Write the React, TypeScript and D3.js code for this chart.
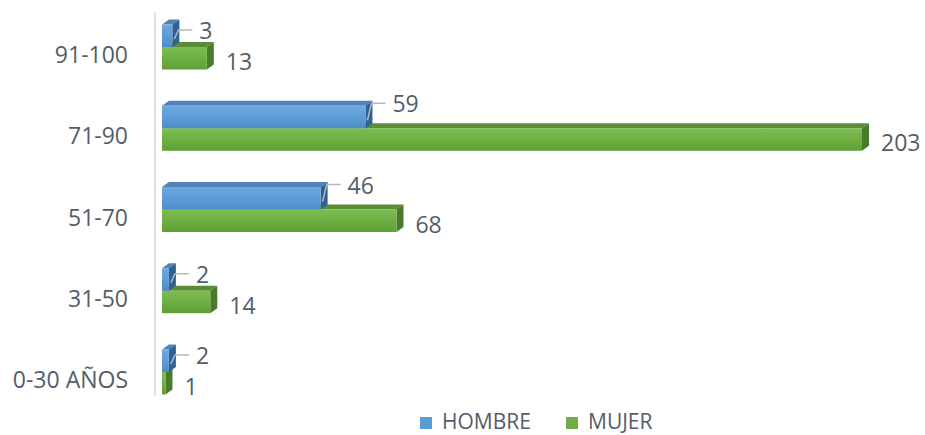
import React from "react";
import * as d3 from "d3";

const categories = ["91-100", "71-90", "51-70", "31-50", "0-30 AÑOS"];
const hombre = [3, 59, 46, 2, 2];
const mujer = [13, 203, 68, 14, 1];
const seriesNames = ["HOMBRE", "MUJER"];

const W = 925;
const H = 435;
const DX = 7;
const DY = -5;
const BAR_H = 22.5;
const FONT = "'Open Sans', 'DejaVu Sans', sans-serif";
const TEXT = "#545d68";

export default function App() {
  const x = d3.scaleLinear().domain([0, 203]).range([162, 862]);
  const y = d3
    .scaleBand<string>()
    .domain(categories)
    .range([6.4, 412.6])
    .padding(0);
  const mid = (c: string) => (y(c) as number) + y.bandwidth() / 2;

  const bar = (
    x0: number,
    x1: number,
    top: number,
    bottom: number,
    front: string,
    topC: string,
    side: string,
    key: string
  ) => (
    <g key={key}>
      <path
        d={`M${x0},${top}L${x0 + DX},${top + DY}L${x1 + DX},${top + DY}L${x1},${top}Z`}
        fill={topC}
      />
      <path
        d={`M${x1},${top}L${x1 + DX},${top + DY}L${x1 + DX},${bottom + DY}L${x1},${bottom}Z`}
        fill={side}
      />
      <rect x={x0} y={top} width={Math.max(0, x1 - x0)} height={bottom - top} fill={front} />
    </g>
  );

  return (
    <svg
      width={W}
      height={H}
      style={{ position: "absolute", left: 0, top: 0, background: "#fff" }}
    >
      <defs>
        <linearGradient id="gBlue" x1="0" y1="0" x2="0" y2="1">
          <stop offset="0%" stopColor="#6ea9de" />
          <stop offset="55%" stopColor="#5b9bd5" />
          <stop offset="100%" stopColor="#4d8cc9" />
        </linearGradient>
        <linearGradient id="gGreen" x1="0" y1="0" x2="0" y2="1">
          <stop offset="0%" stopColor="#7dbd52" />
          <stop offset="55%" stopColor="#6cae41" />
          <stop offset="100%" stopColor="#5f9f37" />
        </linearGradient>
      </defs>

      {/* axis line */}
      <line x1={155} x2={155} y1={12} y2={396} stroke="#d9d9d9" strokeWidth={1.5} />

      {categories.map((c, i) => {
        const m = mid(c);
        const x0 = x(0);
        const xb = x(hombre[i]);
        const xg = x(mujer[i]);
        const blueLabelY = hombre[i] < 10 ? m - 17 : m - 25;
        return (
          <g key={c}>
            {bar(x0, xg, m, m + BAR_H, "url(#gGreen)", "#5b8c37", "#4b7a2c", "g" + i)}
            {bar(x0, xb, m - BAR_H, m, "url(#gBlue)", "#4f83b9", "#2f6193", "b" + i)}
            {/* category label */}
            <text
              x={128}
              y={m + 7}
              textAnchor="end"
              dominantBaseline="central"
              fontFamily={FONT}
              fontSize={23}
              fill={TEXT}
            >
              {c}
            </text>
            {/* hombre leader + label */}
            <path
              d={`M${xb + 2},${m - 8}L${xb + 6},${blueLabelY}L${xb + 20},${blueLabelY}`}
              fill="none"
              stroke="#b4b8bd"
              strokeWidth={1.5}
            />
            <text
              x={xb + 27}
              y={blueLabelY}
              dominantBaseline="central"
              fontFamily={FONT}
              fontSize={23}
              fill={TEXT}
            >
              {hombre[i]}
            </text>
            {/* mujer label */}
            <text
              x={xg + 19}
              y={m + 14}
              dominantBaseline="central"
              fontFamily={FONT}
              fontSize={23}
              fill={TEXT}
            >
              {mujer[i]}
            </text>
          </g>
        );
      })}

      {/* legend */}
      <rect x={420} y={417} width={12} height={12} fill="#5b9bd5" />
      <text x={442} y={421} dominantBaseline="central" fontFamily={FONT} fontSize={21} fill={TEXT}>
        {seriesNames[0]}
      </text>
      <rect x={566} y={417} width={12} height={12} fill="#70ad47" />
      <text x={588} y={421} dominantBaseline="central" fontFamily={FONT} fontSize={21} fill={TEXT}>
        {seriesNames[1]}
      </text>
    </svg>
  );
}
